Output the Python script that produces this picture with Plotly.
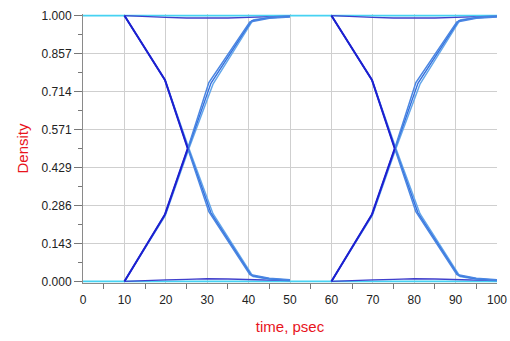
import plotly.graph_objects as go

# Eye diagram: two unit intervals (50 ps each) of a data signal, overlaid.
PERIOD_PS = 50

# Transitions within one unit interval (time in ps, normalised density)
fall_a_t = [10, 19.8, 25.3, 30.4, 40.3, 45, 50]
fall_a_v = [1.000, 0.758, 0.500, 0.262, 0.026, 0.012, 0.006]
fall_b_t = [10, 19.8, 25.4, 30.9, 40.7, 45, 50]
fall_b_v = [1.000, 0.757, 0.500, 0.258, 0.022, 0.010, 0.005]
fall_c_t = [10, 19.9, 25.6, 31.4, 41.1, 45, 50]
fall_c_v = [1.000, 0.755, 0.500, 0.255, 0.018, 0.008, 0.004]

rise_a_t = [10, 19.8, 25.3, 30.4, 40.3, 45, 50]
rise_a_v = [0.000, 0.252, 0.500, 0.748, 0.976, 0.990, 0.995]
rise_b_t = [10, 19.8, 25.4, 30.9, 40.7, 45, 50]
rise_b_v = [0.000, 0.250, 0.500, 0.745, 0.980, 0.992, 0.996]
rise_c_t = [10, 19.9, 25.6, 31.4, 41.1, 45, 50]
rise_c_v = [0.000, 0.248, 0.500, 0.742, 0.984, 0.994, 0.997]

# Bits that stay high / low over an interval
hold_t = [10, 15, 20, 25, 30, 35, 40, 45, 50]
high_v = [1.000, 0.996, 0.993, 0.991, 0.990, 0.991, 0.993, 0.996, 0.998]
low_v = [0.000, 0.004, 0.006, 0.008, 0.010, 0.009, 0.007, 0.005, 0.003]

# Idle levels drawn across the whole window
idle_t = [0, 100]
idle_high = [1.0, 1.0]
idle_low = [0.0, 0.0]

Y_TICK_LABELS = ["0.000", "0.143", "0.286", "0.429", "0.571", "0.714", "0.857", "1.000"]
X_TICK_VALS = [0, 10, 20, 30, 40, 50, 60, 70, 80, 90, 100]

DARK = "#1e1ed0"
MID = "#3470de"
LIGHT = "#62a6ea"
HOLD = "#4040cc"
CYAN = "#46d2f2"

# The leading edge (start of transition up to the crossing) of each waveform
EDGE_POINTS = 3


def two_intervals(t, v):
    """Repeat a one-interval segment into both unit intervals, broken between them."""
    xs = list(t) + [None] + [x + PERIOD_PS for x in t]
    ys = list(v) + [None] + list(v)
    return xs, ys


fig = go.Figure()


def add(t, v, color, width=1.6, repeat=True):
    if repeat:
        x, y = two_intervals(t, v)
    else:
        x, y = t, v
    fig.add_trace(go.Scatter(x=x, y=y, mode="lines", connectgaps=False,
                             line=dict(color=color, width=width),
                             hoverinfo="skip", showlegend=False))


add(idle_t, idle_high, CYAN, 1.8, repeat=False)
add(idle_t, idle_low, CYAN, 1.8, repeat=False)

add(hold_t, high_v, HOLD, 1.3)
add(hold_t, low_v, HOLD, 1.3)

add(fall_c_t, fall_c_v, LIGHT, 1.4)
add(rise_c_t, rise_c_v, LIGHT, 1.4)
add(fall_b_t, fall_b_v, MID, 1.4)
add(rise_b_t, rise_b_v, MID, 1.4)
add(fall_a_t, fall_a_v, "#4a86e2", 1.5)
add(rise_a_t, rise_a_v, "#4a86e2", 1.5)

# darker leading edges on top
add(fall_a_t[:EDGE_POINTS], fall_a_v[:EDGE_POINTS], DARK, 2.0)
add(rise_a_t[:EDGE_POINTS], rise_a_v[:EDGE_POINTS], DARK, 2.0)

y_vals = [float(s) for s in Y_TICK_LABELS]

fig.update_layout(
    width=510, height=341,
    margin=dict(l=83, r=13, t=14.4, b=58.4),
    paper_bgcolor="white", plot_bgcolor="white",
    font=dict(family="Liberation Sans, Arial, sans-serif", size=12, color="#222"),
)

fig.update_xaxes(
    range=[0, 100], automargin=False,
    tickvals=X_TICK_VALS, ticks="", ticklabelstandoff=6,
    showgrid=True, gridcolor="#cfcfcf", gridwidth=1,
    showline=True, linecolor="#8a8a8a", linewidth=1,
    zeroline=False,
    minor=dict(ticks="outside", tick0=5, dtick=10, ticklen=5,
               tickcolor="#777", showgrid=False),
    title=dict(text="time, psec", font=dict(color="#e8141c", size=15), standoff=15),
)

fig.update_yaxes(
    range=[-0.006, 1.006], automargin=False,
    tickvals=y_vals, ticktext=Y_TICK_LABELS,
    ticks="outside", ticklen=8, tickcolor="#777",
    showgrid=True, gridcolor="#cfcfcf", gridwidth=1,
    showline=True, linecolor="#8a8a8a", linewidth=1,
    zeroline=False,
    minor=dict(ticks="outside", tick0=1 / 14, dtick=1 / 7, ticklen=4,
               tickcolor="#777", showgrid=False),
    title=dict(text="Density", font=dict(color="#e8141c", size=15), standoff=9),
)

fig.write_html("out.html")
